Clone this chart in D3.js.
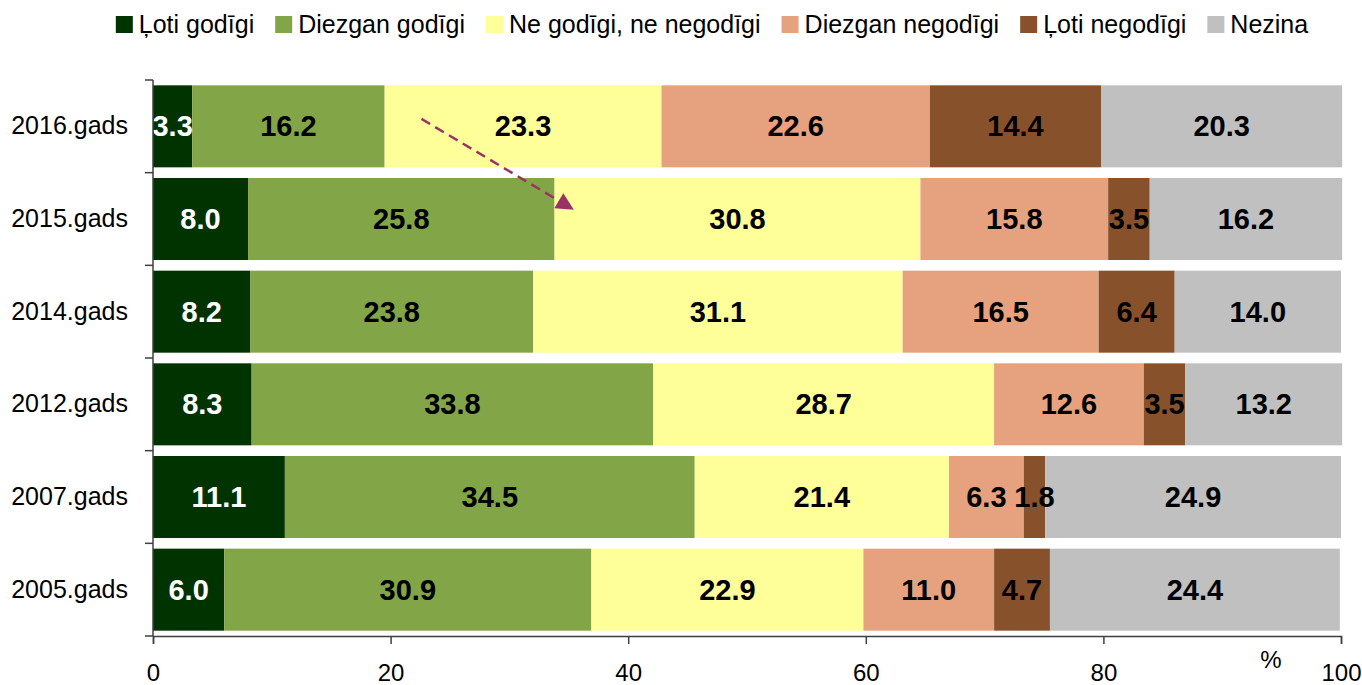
<!DOCTYPE html>
<html lang="lv">
<head>
    <meta charset="UTF-8">
    <title>Stacked bars</title>
    <script src="https://cdnjs.cloudflare.com/ajax/libs/d3/7.8.5/d3.min.js"></script>
    <style>
        body { margin: 0; background: #fff; }
        svg { display: block; font-family: "Liberation Sans", Arial, sans-serif; }
    </style>
</head>
<body>
    <div id="wrapper"></div>
    <script>
        // data, top row first
        const years = ['2016.gads', '2015.gads', '2014.gads', '2012.gads', '2007.gads', '2005.gads']
        const seriesNames = ['Ļoti godīgi', 'Diezgan godīgi', 'Ne godīgi, ne negodīgi', 'Diezgan negodīgi', 'Ļoti negodīgi', 'Nezina']
        const lotiGodigi      = [3.3, 8.0, 8.2, 8.3, 11.1, 6.0]
        const diezganGodigi   = [16.2, 25.8, 23.8, 33.8, 34.5, 30.9]
        const neNe            = [23.3, 30.8, 31.1, 28.7, 21.4, 22.9]
        const diezganNegodigi = [22.6, 15.8, 16.5, 12.6, 6.3, 11.0]
        const lotiNegodigi    = [14.4, 3.5, 6.4, 3.5, 1.8, 4.7]
        const nezina          = [20.3, 16.2, 14.0, 13.2, 24.9, 24.4]
        const xTicks = [0, 20, 40, 60, 80, 100]

        // annotation arrow (data units + band offset)
        const arrowFrom = { x: 22.6, year: '2016.gads', dy: -0.08 }
        const arrowTo   = { x: 35.3, year: '2015.gads', dy: -0.11 }

        const colors = ['#003300', '#82A547', '#FFFF99', '#E6A27E', '#87522B', '#C0C0C0']
        const allValues = [lotiGodigi, diezganGodigi, neNe, diezganNegodigi, lotiNegodigi, nezina]

        const dataset = years.map((year, i) => {
            const row = { year }
            seriesNames.forEach((name, s) => row[name] = allValues[s][i])
            return row
        })

        const dimensions = {
            width: 1362,
            height: 685,
            margin: { top: 80, right: 21, bottom: 49, left: 153 }
        }
        dimensions.boundedWidth = dimensions.width - dimensions.margin.left - dimensions.margin.right
        dimensions.boundedHeight = dimensions.height - dimensions.margin.top - dimensions.margin.bottom

        const svg = d3.select('#wrapper')
            .append('svg')
                .attr('width', dimensions.width)
                .attr('height', dimensions.height)

        const bounds = svg.append('g')
            .attr('transform', `translate(${dimensions.margin.left},${dimensions.margin.top})`)

        const xScale = d3.scaleLinear()
            .domain([0, 100])
            .range([0, dimensions.boundedWidth])

        const yScale = d3.scaleBand()
            .domain(years)
            .range([0, dimensions.boundedHeight])
            .paddingInner(0.115)
            .paddingOuter(0.0575)

        const stack = d3.stack().keys(seriesNames)
        const layers = stack(dataset)

        // bars
        const layerGroups = bounds.selectAll('.layer')
            .data(layers)
            .join('g')
                .attr('class', 'layer')
                .attr('fill', (d, i) => colors[i])

        layerGroups.selectAll('rect')
            .data(d => d)
            .join('rect')
                .attr('x', d => xScale(d[0]))
                .attr('y', d => yScale(d.data.year))
                .attr('width', d => xScale(d[1]) - xScale(d[0]))
                .attr('height', yScale.bandwidth())

        // value labels, drawn above every bar
        const labelData = layers.flatMap((layer, s) => layer.map(p => ({ p, s })))
        bounds.append('g')
            .selectAll('text')
            .data(labelData)
            .join('text')
                .attr('x', d => xScale((d.p[0] + d.p[1]) / 2))
                .attr('y', d => yScale(d.p.data.year) + yScale.bandwidth() / 2)
                .attr('dy', '0.35em')
                .attr('text-anchor', 'middle')
                .attr('font-size', 29)
                .attr('font-weight', 'bold')
                .attr('fill', d => d.s === 0 ? '#ffffff' : '#000000')
                .text(d => (d.p[1] - d.p[0]).toFixed(1))

        // x axis
        const xAxisGenerator = d3.axisBottom(xScale)
            .tickValues(xTicks)
            .tickSize(8)
            .tickPadding(20)
            .tickFormat(d3.format('d'))

        const xAxis = bounds.append('g')
            .attr('transform', `translate(0,${dimensions.boundedHeight})`)
            .call(xAxisGenerator)
        xAxis.select('.domain').attr('stroke', '#404040').attr('stroke-width', 1.5)
        xAxis.selectAll('.tick line').attr('stroke', '#404040').attr('stroke-width', 1.5)
        xAxis.selectAll('.tick text')
            .attr('font-size', 24)
            .attr('font-family', '"Liberation Sans", Arial, sans-serif')
            .attr('fill', '#000')

        xAxis.append('text')
            .attr('x', xScale(94.1))
            .attr('y', 32)
            .attr('text-anchor', 'middle')
            .attr('font-size', 24)
            .attr('fill', '#000')
            .text('%')

        // y axis: labels at band centres, ticks on band boundaries
        const yAxisGenerator = d3.axisLeft(yScale)
            .tickSize(0)
            .tickPadding(25)

        const yAxis = bounds.append('g').call(yAxisGenerator)
        yAxis.select('.domain').remove()
        yAxis.selectAll('.tick text')
            .attr('font-size', 25)
            .attr('font-family', '"Liberation Sans", Arial, sans-serif')
            .attr('fill', '#000')

        const boundaries = d3.range(years.length + 1).map(i => i * yScale.step())
        bounds.append('line')
            .attr('x1', 0).attr('x2', 0)
            .attr('y1', 0).attr('y2', dimensions.boundedHeight)
            .attr('stroke', '#404040').attr('stroke-width', 1.5)
        bounds.selectAll('.y-tick')
            .data(boundaries)
            .join('line')
                .attr('class', 'y-tick')
                .attr('x1', -8).attr('x2', 0)
                .attr('y1', d => d).attr('y2', d => d)
                .attr('stroke', '#404040').attr('stroke-width', 1.5)

        // dashed arrow
        const defs = svg.append('defs')
        defs.append('marker')
            .attr('id', 'arrowhead')
            .attr('viewBox', '0 0 10 10')
            .attr('refX', 9).attr('refY', 5)
            .attr('markerWidth', 8).attr('markerHeight', 7)
            .attr('markerUnits', 'strokeWidth')
            .attr('orient', 'auto')
            .append('path')
                .attr('d', 'M0,0L10,5L0,10Z')
                .attr('fill', '#993366')

        const arrowY = a => yScale(a.year) + yScale.bandwidth() / 2 + a.dy * yScale.step()
        bounds.append('line')
            .attr('x1', xScale(arrowFrom.x)).attr('y1', arrowY(arrowFrom))
            .attr('x2', xScale(arrowTo.x)).attr('y2', arrowY(arrowTo))
            .attr('stroke', '#993366')
            .attr('stroke-width', 2.5)
            .attr('stroke-dasharray', '10,6')
            .attr('marker-end', 'url(#arrowhead)')

        // legend
        const legend = svg.append('g').attr('transform', 'translate(0,16)')
        const items = legend.selectAll('g')
            .data(seriesNames)
            .join('g')
        items.append('rect')
            .attr('width', 17).attr('height', 17)
            .attr('fill', (d, i) => colors[i])
        items.append('text')
            .attr('x', 23)
            .attr('y', 8.5)
            .attr('dy', '0.35em')
            .attr('font-size', 25)
            .attr('fill', '#000')
            .text(d => d)

        let offset = 0
        const positions = []
        items.each(function () {
            const w = d3.select(this).select('text').node().getComputedTextLength()
            positions.push(offset)
            offset += 23 + w + 21
        })
        const totalWidth = offset - 21
        const startX = 712 - totalWidth / 2
        items.attr('transform', (d, i) => `translate(${startX + positions[i]},0)`)
    </script>
</body>
</html>
